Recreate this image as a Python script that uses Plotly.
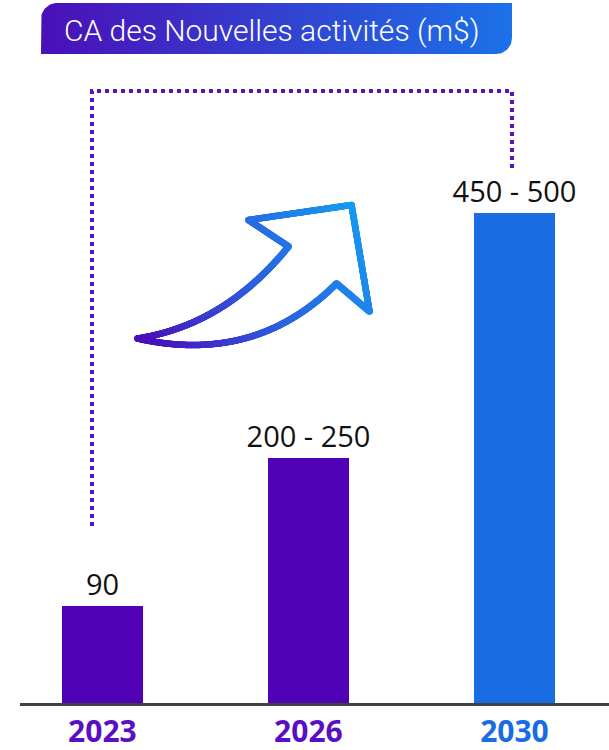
import numpy as np
import plotly.graph_objects as go

W, H = 609, 750

# ---- data ----
years = ["2023", "2026", "2030"]
values = [90, 227, 455]
labels = ["90", "200 - 250", "450 - 500"]
bar_colors = ["#5000b5", "#5000b5", "#1a6ce2"]
tick_colors = ["#5a0fc4", "#5a0fc4", "#1a6ce2"]
title_text = "CA des Nouvelles activités (m$)"

# ---- layout geometry (pixels) ----
PL, PR, PT, PB = 20, 609, 60, 703

fig = go.Figure()

fig.add_trace(go.Bar(
    x=years, y=values, width=0.393,
    marker=dict(color=bar_colors, line=dict(width=0)),
    text=labels, textposition="outside", cliponaxis=False, constraintext="none",
    textfont=dict(family="Open Sans", size=29, color="#111111"),
    hoverinfo="skip", xaxis="x", yaxis="y",
))

# ---- decorations in a pixel-space overlay subplot ----
def arc(cx, cy, r, a0, a1, n=20):
    t = np.linspace(np.radians(a0), np.radians(a1), n)
    return cx + r * np.cos(t), cy + r * np.sin(t)

bx0, bx1, by0, by1, rad = 41, 512, 3, 54, 16
xs, ys = [bx0], [by1]
ax_, ay_ = arc(bx0 + rad, by0 + rad, rad, 180, 270)
xs += list(ax_); ys += list(ay_)
xs += [bx1, bx1]; ys += [by0, by1 - rad]
ax_, ay_ = arc(bx1 - rad, by1 - rad, rad, 0, 90)
xs += list(ax_); ys += list(ay_)
xs += [bx0]; ys += [by1]
fig.add_trace(go.Scatter(
    x=xs, y=ys, mode="lines", fill="toself", line=dict(width=0),
    fillgradient=dict(type="horizontal", colorscale=[[0, "#4b0fb8"], [1, "#1b72e8"]]),
    hoverinfo="skip", xaxis="x2", yaxis="y2", showlegend=False,
))

# dotted bracket
fig.add_trace(go.Scatter(
    x=[92, 92, 512, 512], y=[526, 91, 91, 168], mode="lines",
    line=dict(color="#5a10c6", width=4, dash="dot"),
    hoverinfo="skip", xaxis="x2", yaxis="y2", showlegend=False,
))

# curved arrow outline with gradient
def qbez(p0, c, p1, n=200):
    t = np.linspace(0, 1, n)[:, None]
    p0, c, p1 = map(np.array, (p0, c, p1))
    return (1 - t) ** 2 * p0 + 2 * t * (1 - t) * c + t ** 2 * p1

def seg(p0, p1):
    p0, p1 = np.array(p0), np.array(p1)
    n = int(np.hypot(*(p1 - p0)) / 0.6) + 2
    t = np.linspace(0, 1, n)[:, None]
    return (1 - t) * p0 + t * p1

tail = (137.5, 338.5)
notch1 = (288.5, 246.5)
barb1 = (248.5, 220)
tip = (351.5, 205)
barb2 = (369.5, 311.5)
notch2 = (336.5, 283.5)
pts = np.vstack([
    qbez(tail, (225, 325), notch1, 300),
    seg(notch1, barb1), seg(barb1, tip), seg(tip, barb2), seg(barb2, notch2),
    qbez(notch2, (255, 365), tail, 360),
])
proj = (pts[:, 0] - 137) * 1.0 - (pts[:, 1] - 338) * 0.6
proj = (proj - proj.min()) / (proj.max() - proj.min())
fig.add_trace(go.Scatter(
    x=pts[:, 0], y=pts[:, 1], mode="markers",
    marker=dict(size=6.5, color=proj, line=dict(width=0),
                colorscale=[[0, "#4a0cb8"], [0.5, "#2e5ee0"], [1, "#1899f0"]],
                showscale=False),
    hoverinfo="skip", xaxis="x2", yaxis="y2", showlegend=False,
))

fig.add_annotation(
    x=62, y=30, xref="x2", yref="y2", text=title_text, showarrow=False,
    xanchor="left", yanchor="middle",
    font=dict(family="Roboto", size=30, color="white", weight=300),
)

fig.update_layout(
    width=W, height=H, margin=dict(l=0, r=0, t=0, b=0),
    paper_bgcolor="white", plot_bgcolor="rgba(0,0,0,0)",
    showlegend=False, bargap=0,
    xaxis=dict(
        type="category", domain=[PL / W, PR / W], range=[-0.4, 2.459],
        showline=True, linecolor="#3d4247", linewidth=3,
        tickvals=years,
        ticktext=[f"<span style='color:{c}'><b>{y}</b></span>" for y, c in zip(years, tick_colors)],
        tickfont=dict(family="Open Sans", size=30), ticks="",
        showgrid=False, zeroline=False, anchor="y",
    ),
    yaxis=dict(
        domain=[1 - PB / H, 1 - PT / H], range=[0, (PB - PT) / 1.078],
        visible=False, anchor="x",
    ),
    xaxis2=dict(domain=[0, 1], range=[0, W], visible=False, anchor="y2"),
    yaxis2=dict(domain=[0, 1], range=[H, 0], visible=False, anchor="x2"),
)

fig.write_html("out.html", config={"displayModeBar": False},
               post_script="document.body.style.margin='0';")
